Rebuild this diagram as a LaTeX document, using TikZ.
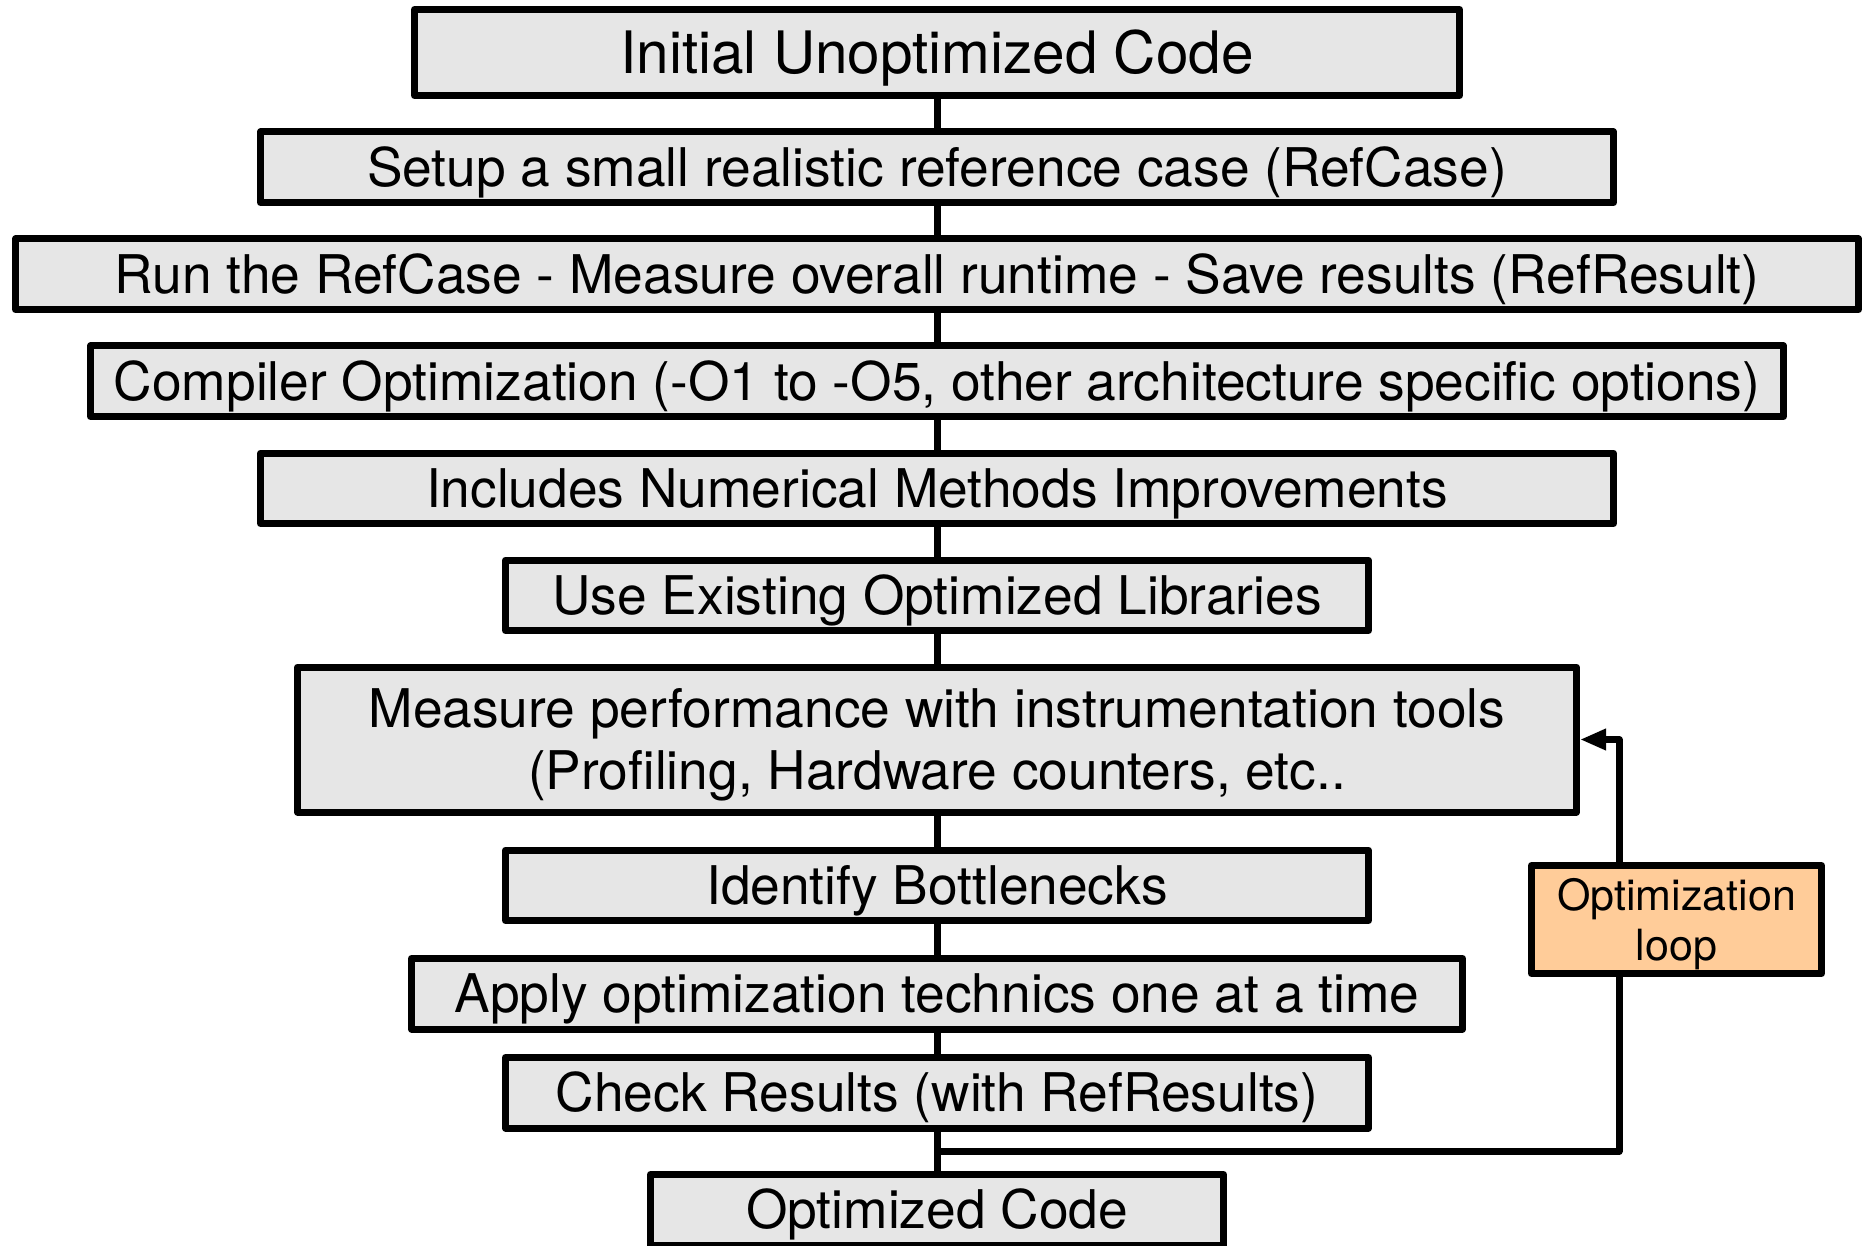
\documentclass[tikz,border=0pt]{standalone}
\usepackage{fontspec}
\setmainfont{TeX Gyre Heros}
\usepackage{tikz}
\usetikzlibrary{arrows.meta, positioning, calc}
\definecolor{boxgray}{RGB}{230,230,230}
\definecolor{loopfill}{RGB}{255,204,153}

\begin{document}
\begin{tikzpicture}[
    x=1pt, y=1pt,
    node distance=29.5pt,
    box/.style={draw, line width=7pt, line join=round, fill=boxgray,
                minimum height=70.5pt, align=center, inner sep=0pt,
                text height=38.4pt, text depth=0pt,
                font={\fontsize{53.3}{62}\selectfont}},
    loopbox/.style={draw, line width=7pt, line join=round, fill=loopfill,
                    minimum width=290pt, minimum height=108pt, align=center,
                    inner sep=0pt, text height=81pt, text depth=0pt,
                    font={\fontsize{43}{50}\selectfont}},
    link/.style={line width=7pt},
    arr/.style={-{Triangle[length=26pt,width=20pt]}, line width=7pt, line join=round},
]
    \useasboundingbox (0,0) rectangle (1868,-1246);

    % Nodes
    \node[box, minimum width=1045pt, minimum height=86pt, text height=42.1pt,
          font={\fontsize{58.5}{64}\selectfont}] (start) at (937,-52.5) {Initial Unoptimized Code};
    \node[box, below=of start, minimum width=1353pt] (refcase) {Setup a small realistic reference case (RefCase)};
    \node[box, below=of refcase, minimum width=1843pt] (refrun) {Run the RefCase - Measure overall runtime - Save results (RefResult)};
    \node[box, below=of refrun, minimum width=1693pt] (compiler) {Compiler Optimization (-O1 to -O5, other architecture specific options)};
    \node[box, below=of compiler, minimum width=1353pt] (numerics) {Includes Numerical Methods Improvements};
    \node[box, below=of numerics, minimum width=863pt] (libs) {Use Existing Optimized Libraries};
    \node[box, below=of libs, minimum width=1279pt, minimum height=145pt, text height=100.4pt] (measure) {Measure performance with instrumentation tools\\(Profiling, Hardware counters, etc..};
    \node[box, below=31pt of measure, minimum width=863pt] (bottleneck) {Identify Bottlenecks};
    \node[box, below=31pt of bottleneck, minimum width=1051pt] (apply) {Apply optimization technics one at a time};
    \node[box, below=21.5pt of apply, minimum width=863pt] (check) {Check Results (with RefResults)};
    \node[box, below=39.5pt of check, minimum width=573pt] (final) {Optimized Code};
    \node[loopbox] (loop) at (1676.5,-919.5) {Optimization\\loop};

    % Arrows
    \draw[link] (start) -- (refcase);
    \draw[link] (refcase) -- (refrun);
    \draw[link] (refrun) -- (compiler);
    \draw[link] (compiler) -- (numerics);
    \draw[link] (numerics) -- (libs);
    \draw[link] (libs) -- (measure);
    \draw[link] (measure) -- (bottleneck);
    \draw[link] (bottleneck) -- (apply);
    \draw[link] (apply) -- (check);
    \draw[link] (check) -- (final);
    \coordinate (split) at ($(check.south)!0.5!(final.north)$);
    \draw[link, line join=round] (split) -| ([xshift=-57.5pt]loop.south);
    \draw[arr] ([xshift=-57.5pt]loop.north) |- (measure.east);
\end{tikzpicture}
\end{document}
